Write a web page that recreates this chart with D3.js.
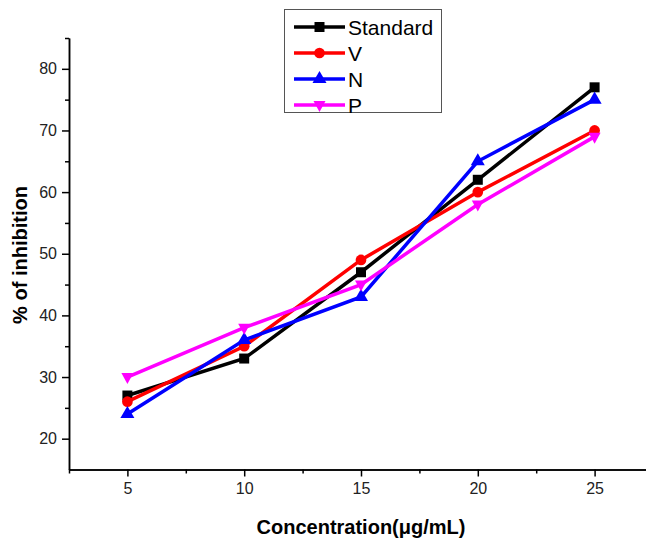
<!DOCTYPE html>
<html>
<head>
<meta charset="utf-8">
<script src="https://cdn.jsdelivr.net/npm/d3@7"></script>
<style>
  body { margin: 0; background: #fff; }
  svg { font-family: "Liberation Sans", Arial, sans-serif; }
</style>
</head>
<body>
<svg id="chart"></svg>
<script>
var concentrations = [5, 10, 15, 20, 25];
var standard = [27, 33, 47, 62, 77];
var vValues = [26, 35, 49, 60, 70];
var nValues = [24, 36, 43, 65, 75];
var pValues = [30, 38, 45, 58, 69];
var xTicks = [5, 10, 15, 20, 25];
var yTicks = [20, 30, 40, 50, 60, 70, 80];

var seriesList = [
    { name: "Standard", values: standard, color: "#000000", symbol: "square" },
    { name: "V", values: vValues, color: "#ff0000", symbol: "circle" },
    { name: "N", values: nValues, color: "#0000ff", symbol: "up" },
    { name: "P", values: pValues, color: "#ff00ff", symbol: "down" }
];

var width = 646, height = 542;
var svg = d3.select("#chart").attr("width", width).attr("height", height);

var x = d3.scaleLinear().domain([2.5, 27.5]).range([69, 653]);
var y = d3.scaleLinear().domain([15, 85]).range([469.5, 38]);

// axes
svg.append("g").attr("transform", "translate(0," + y(15) + ")")
    .call(d3.axisBottom(x).tickValues(xTicks).tickSize(7).tickSizeOuter(0).tickPadding(6));
svg.append("g").attr("transform", "translate(0," + y(15) + ")")
    .call(d3.axisBottom(x).tickValues([2.5, 7.5, 12.5, 17.5, 22.5]).tickSize(4).tickSizeOuter(0).tickFormat(""));

svg.append("g").attr("transform", "translate(" + x(2.5) + ",0)")
    .call(d3.axisLeft(y).tickValues(yTicks).tickSize(7).tickSizeOuter(0).tickPadding(5));
svg.append("g").attr("transform", "translate(" + x(2.5) + ",0)")
    .call(d3.axisLeft(y).tickValues([25, 35, 45, 55, 65, 75, 85]).tickSize(4).tickSizeOuter(0).tickFormat(""));

svg.selectAll(".domain").attr("stroke", "#000").attr("stroke-width", 1.5);
svg.selectAll(".tick line").attr("stroke", "#000").attr("stroke-width", 1.5);
svg.selectAll(".tick text").attr("font-size", "16px").attr("fill", "#222")
    .attr("font-family", "'Liberation Sans', Arial, sans-serif");

// axis titles
svg.append("text")
    .attr("x", 361).attr("y", 534)
    .attr("text-anchor", "middle")
    .attr("font-size", "20px").attr("font-weight", "bold")
    .text("Concentration(\u03bcg/mL)");

svg.append("text")
    .attr("transform", "translate(27,255) rotate(-90)")
    .attr("text-anchor", "middle")
    .attr("font-size", "20px").attr("font-weight", "bold")
    .text("% of inhibition");

function symbolPath(kind) {
    if (kind === "square") return d3.symbol(d3.symbolSquare, 100)();
    if (kind === "circle") return d3.symbol(d3.symbolCircle, 90)();
    if (kind === "up") return d3.symbol(d3.symbolTriangle, 85)();
    return "M-6,-4L6,-4L0,7Z";
}

var line = d3.line()
    .x(function(d, i) { return x(concentrations[i]); })
    .y(function(d) { return y(d); });

seriesList.forEach(function(s) {
    var g = svg.append("g");
    g.append("path")
        .datum(s.values)
        .attr("d", line)
        .attr("fill", "none")
        .attr("stroke", s.color)
        .attr("stroke-width", 3.5);
    g.selectAll("path.marker")
        .data(s.values)
        .enter()
        .append("path")
        .attr("class", "marker")
        .attr("transform", function(d, i) {
            return "translate(" + x(concentrations[i]) + "," + y(d) + ")";
        })
        .attr("d", symbolPath(s.symbol))
        .attr("fill", s.color);
});

// legend
var legend = svg.append("g");
legend.append("rect")
    .attr("x", 284.5).attr("y", 9.5)
    .attr("width", 157).attr("height", 103)
    .attr("fill", "#fff").attr("stroke", "#555").attr("stroke-width", 1);

seriesList.forEach(function(s, i) {
    var ly = 27 + i * 26;
    legend.append("line")
        .attr("x1", 294).attr("x2", 345)
        .attr("y1", ly).attr("y2", ly)
        .attr("stroke", s.color).attr("stroke-width", 3.5);
    legend.append("path")
        .attr("transform", "translate(319.5," + ly + ")")
        .attr("d", symbolPath(s.symbol))
        .attr("fill", s.color);
    legend.append("text")
        .attr("x", 348).attr("y", ly + 7.5)
        .attr("font-size", "21px")
        .attr("fill", "#000")
        .text(s.name);
});
</script>
</body>
</html>
